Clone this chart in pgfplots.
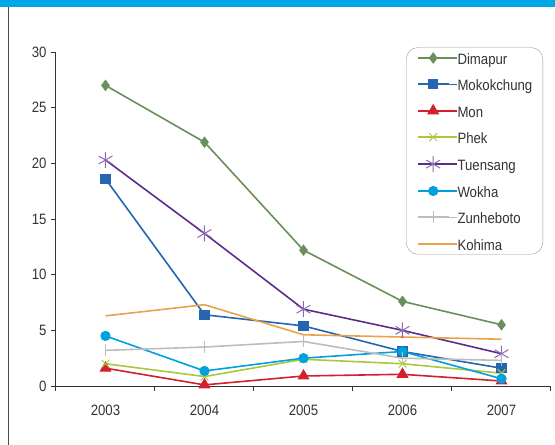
\documentclass[border=0pt]{standalone}
\usepackage{fontspec}
\setmainfont[FakeStretch=0.88]{Liberation Sans}
\usepackage{pgfplots}
\pgfplotsset{compat=1.18}
\definecolor{cDim}{HTML}{6A8F5C}
\definecolor{cMok}{HTML}{2466B0}
\definecolor{cMon}{HTML}{D2202F}
\definecolor{cPhek}{HTML}{A9C83E}
\definecolor{cTue}{HTML}{5E2C8C}
\definecolor{cWok}{HTML}{00A1DD}
\definecolor{cZun}{HTML}{BDBDBD}
\definecolor{cKoh}{HTML}{E9A24A}
\definecolor{cBand}{HTML}{00A8E6}
\definecolor{cAx}{HTML}{333333}
\begin{document}
\begin{tikzpicture}[x=1pt,y=1pt]
\useasboundingbox (0,0) rectangle (555,445);
\fill[cBand] (0,437.5) rectangle (555,445);
\draw[color=black!70, line width=1pt] (8.5,0) -- (8.5,437.5);
\begin{axis}[
  at={(56pt,59pt)}, anchor=south west,
  scale only axis, width=495pt, height=334pt,
  xmin=-0.5, xmax=4.5, ymin=0, ymax=30,
  axis lines*=left,
  axis line style={cAx, line width=1pt},
  every tick/.style={cAx, line width=1pt},
  xtick={0,1,2,3,4}, xticklabels={2003,2004,2005,2006,2007},
  major x tick style={draw=none},
  minor xtick={-0.5,0.5,1.5,2.5,3.5,4.5},
  ytick={0,5,10,15,20,25,30},
  tick align=outside, major tick length=5pt, minor tick length=5pt,
  /pgf/number format/assume math mode=true,
  ticklabel style={font=\fontsize{15}{18}\selectfont, text=cAx},
  xticklabel style={yshift=-10pt},
  yticklabel style={xshift=-1pt},
  legend style={at={(350pt,338.7pt)}, anchor=north west, draw=gray!80,
    rounded corners=12pt, inner xsep=10.5pt, inner ysep=3pt,
    font=\fontsize{15}{18}\selectfont, text=cAx,
    nodes={inner sep=0pt, text height=14pt, text depth=1pt},
    row sep=11.4pt, cells={anchor=west}},
  legend image code/.code={
    \draw[line width=2pt, mark repeat=2,mark phase=2] plot coordinates {(0pt,0pt) (15.5pt,0pt) (31pt,0pt)};
    \path (31pt,0pt) -- (39pt,0pt);},
]
\addplot[cDim, line width=1.6pt, mark=diamond*, mark size=5pt, mark options={fill=cDim, line width=1pt}] coordinates {(0,27.0) (1,21.9) (2,12.2) (3,7.6) (4,5.5)};
\addlegendentry{Dimapur}
\addplot[cMok, line width=1.6pt, mark=square*, mark size=4.6pt, mark options={fill=cMok, line width=1pt}] coordinates {(0,18.6) (1,6.4) (2,5.4) (3,3.1) (4,1.6)};
\addlegendentry{Mokokchung}
\addplot[cMon, line width=1.6pt, mark=triangle*, mark size=6pt, mark options={fill=cMon, line width=1pt}] coordinates {(0,1.6) (1,0.1) (2,0.9) (3,1.05) (4,0.45)};
\addlegendentry{Mon}
\addplot[cPhek, line width=1.6pt, mark=x, mark size=5.5pt, mark options={line width=1pt}] coordinates {(0,2.0) (1,0.85) (2,2.4) (3,2.0) (4,1.15)};
\addlegendentry{Phek}
\addplot[cTue, line width=1.6pt, mark=asterisk, mark size=8pt, mark options={line width=1pt, color=cTue!70}] coordinates {(0,20.3) (1,13.7) (2,6.9) (3,5.0) (4,2.9)};
\addlegendentry{Tuensang}
\addplot[cWok, line width=1.6pt, mark=*, mark size=4.6pt, mark options={fill=cWok, line width=1pt}] coordinates {(0,4.5) (1,1.35) (2,2.5) (3,3.1) (4,0.65)};
\addlegendentry{Wokha}
\addplot[cZun, line width=1.6pt, mark=|, mark size=6pt, mark options={line width=1pt}] coordinates {(0,3.2) (1,3.5) (2,4.0) (3,2.5) (4,2.3)};
\addlegendentry{Zunheboto}
\addplot[cKoh, line width=1.6pt, no marks] coordinates {(0,6.3) (1,7.3) (2,4.6) (3,4.4) (4,4.2)};
\addlegendentry{Kohima}
\end{axis}
\end{tikzpicture}
\end{document}
